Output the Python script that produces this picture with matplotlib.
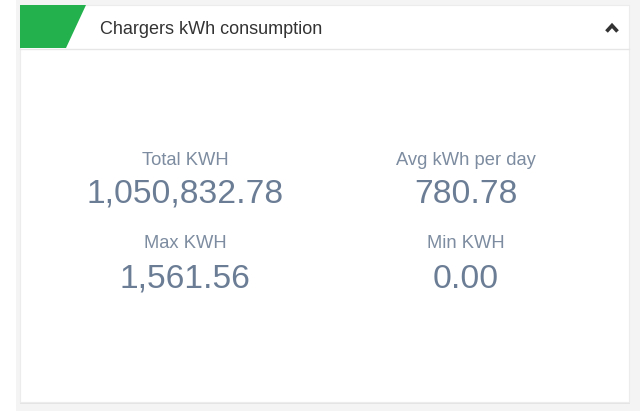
import matplotlib
matplotlib.use("Agg")
import matplotlib.pyplot as plt
from matplotlib.patches import Rectangle, Polygon

title = "Chargers kWh consumption"
stat_labels = ["Total KWH", "Avg kWh per day", "Max KWH", "Min KWH"]
stat_values = [1050832.78, 780.78, 1561.56, 0.00]

W, H = 640, 411
fig = plt.figure(figsize=(W / 100, H / 100), dpi=100)
fig.patch.set_facecolor("white")
ax = fig.add_axes([0, 0, 1, 1])
ax.set_xlim(0, W)
ax.set_ylim(H, 0)
ax.axis("off")

FONT = "Liberation Sans"

# page background
ax.add_patch(Rectangle((16, 0), W - 16, H, facecolor="#f4f4f4", edgecolor="none"))
# card shadow + card
ax.add_patch(Rectangle((20, 6), 610, 398, facecolor="#e4e4e4", edgecolor="none"))
ax.add_patch(Rectangle((20, 5), 609, 397, facecolor="white", edgecolor="#ececec", linewidth=0.8))
# header divider
ax.plot([20, 629], [49, 49], color="#e6e6e6", linewidth=1)
# green tab
ax.add_patch(Polygon([(20, 5), (86, 5), (66, 48), (20, 48)], closed=True,
                     facecolor="#22b14c", edgecolor="none"))
# title
ax.text(100, 30, title, fontsize=13, family=FONT, color="#333333",
        ha="left", va="center")
# chevron
ax.plot([606.5, 612, 617.5], [31.5, 25.5, 31.5], color="#333333", linewidth=2.6,
        solid_capstyle="butt", solid_joinstyle="miter")

# stats
col_x = [185, 466]
label_y = [160, 243]
value_y = [194, 279]
for i, (lab, val) in enumerate(zip(stat_labels, stat_values)):
    r, c = divmod(i, 2)
    ax.text(col_x[c], label_y[r], lab, fontsize=13.2, family=FONT,
            color="#7d8ca0", ha="center", va="center")
    ax.text(col_x[c], value_y[r], f"{val:,.2f}", fontsize=24.2, family=FONT,
            color="#6b7d95", ha="center", va="center")

fig.savefig("out.png", dpi=100, facecolor=fig.get_facecolor())
